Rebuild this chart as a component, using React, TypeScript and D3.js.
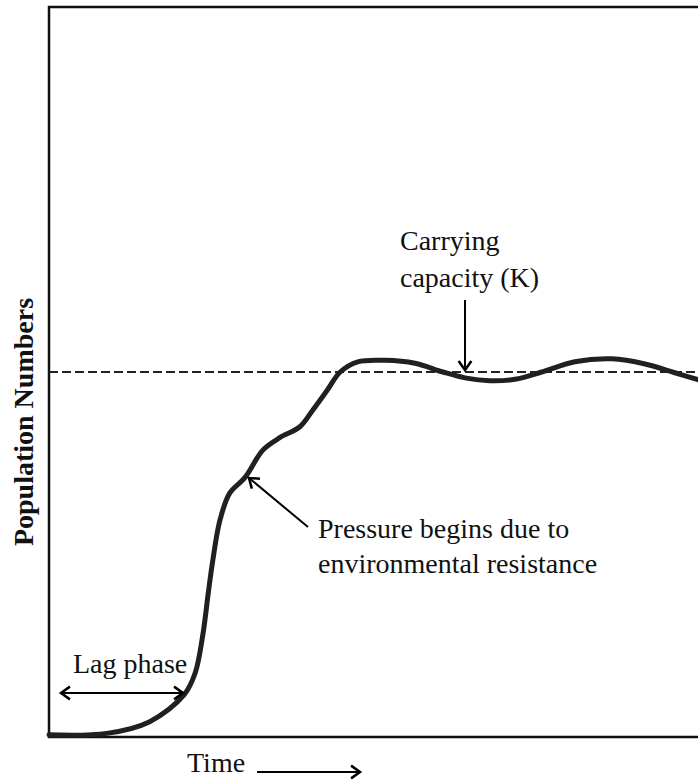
import { useEffect, useRef } from 'react';
import * as d3 from 'd3';

// logistic growth curve (time and population in 0..100 units)
const timeValues = [0, 8.9, 15.5, 20.8, 22.5, 23.7, 24.5, 25.2, 26.3, 27.8, 30.2, 32.9, 35.5, 38.6, 40.6, 42.8, 44.8, 47.5, 51.7, 56.3, 60.6, 64, 67.8, 71.7, 75.8, 80.9, 86.6, 91.7, 96.3, 100];
const populationValues = [0.3, 0.5, 2.1, 5.8, 8.8, 14.2, 19.7, 24.2, 29.7, 33.4, 35.6, 39.3, 41.0, 42.5, 44.8, 47.5, 50, 51.4, 51.6, 51.2, 50, 49.2, 48.8, 49.0, 50, 51.4, 51.8, 51.1, 49.9, 48.9];
const carryingCapacity = 50;

const yAxisLabel = 'Population Numbers';
const xAxisLabel = 'Time';
const lagLabel = 'Lag phase';
const capacityLabel = ['Carrying', 'capacity (K)'];
const pressureLabel = ['Pressure begins due to', 'environmental resistance'];

const App = () => {
  const svgRef = useRef<SVGSVGElement>(null);

  useEffect(() => {
    if (!svgRef.current) return;
    document.body.style.margin = '0';

    const svg = d3.select(svgRef.current);
    svg.selectAll('*').remove();

    const left = 49;
    const top = 7;
    const bottom = 737;
    const right = 699;
    const font = '"Liberation Serif", "Times New Roman", serif';
    const fs = 28;

    const x = d3.scaleLinear().domain([0, 100]).range([left, right]);
    const y = d3.scaleLinear().domain([0, 100]).range([bottom, top]);

    // frame (right side runs off the picture)
    svg.append('path')
      .attr('d', `M${right + 20},${top}H${left}V${bottom}H${right + 20}`)
      .attr('fill', 'none')
      .attr('stroke', '#111')
      .attr('stroke-width', 2.5);

    // carrying capacity
    svg.append('line')
      .attr('x1', left)
      .attr('x2', right)
      .attr('y1', y(carryingCapacity))
      .attr('y2', y(carryingCapacity))
      .attr('stroke', '#222')
      .attr('stroke-width', 2)
      .attr('stroke-dasharray', '9,4');

    // growth curve
    const pts = timeValues.map((t, i) => [t, populationValues[i]] as [number, number]);
    const line = d3.line<[number, number]>()
      .x(d => x(d[0]))
      .y(d => y(d[1]))
      .curve(d3.curveCatmullRom.alpha(0.5));
    svg.append('path')
      .attr('d', line(pts))
      .attr('fill', 'none')
      .attr('stroke', '#231f20')
      .attr('stroke-width', 5)
      .attr('stroke-linecap', 'round');

    // arrows with open chevron heads
    const arrow = (x1: number, y1: number, x2: number, y2: number, both = false) => {
      svg.append('line')
        .attr('x1', x1).attr('y1', y1).attr('x2', x2).attr('y2', y2)
        .attr('stroke', '#000').attr('stroke-width', 2);
      const head = (tx: number, ty: number, fx: number, fy: number) => {
        const a = Math.atan2(ty - fy, tx - fx);
        const L = 11;
        const s = 0.62;
        svg.append('path')
          .attr('d', `M${tx - L * Math.cos(a - s)},${ty - L * Math.sin(a - s)}L${tx},${ty}L${tx - L * Math.cos(a + s)},${ty - L * Math.sin(a + s)}`)
          .attr('fill', 'none')
          .attr('stroke', '#000')
          .attr('stroke-width', 2.5)
          .attr('stroke-linejoin', 'miter');
      };
      head(x2, y2, x1, y1);
      if (both) head(x1, y1, x2, y2);
    };

    arrow(61, 693, 183, 693, true);
    arrow(465, 300, 465, 370);
    arrow(308, 527, 249, 478);
    arrow(257, 772, 360, 772);

    const text = (tx: number, ty: number, s: string, weight = 'normal') =>
      svg.append('text')
        .attr('x', tx)
        .attr('y', ty)
        .attr('font-family', font)
        .attr('font-size', fs)
        .attr('font-weight', weight)
        .attr('fill', '#111')
        .text(s);

    text(73, 673, lagLabel);
    text(400, 250, capacityLabel[0]);
    text(400, 287, capacityLabel[1]);
    text(318, 538, pressureLabel[0]);
    text(318, 573, pressureLabel[1]);
    text(187, 772, xAxisLabel);

    svg.append('text')
      .attr('transform', `translate(33, 422) rotate(-90)`)
      .attr('text-anchor', 'middle')
      .attr('font-family', font)
      .attr('font-size', 28)
      .attr('font-weight', 'bold')
      .attr('fill', '#111')
      .text(yAxisLabel);
  }, []);

  return <svg ref={svgRef} width={698} height={780} style={{ display: 'block' }} />;
};

export default App;
